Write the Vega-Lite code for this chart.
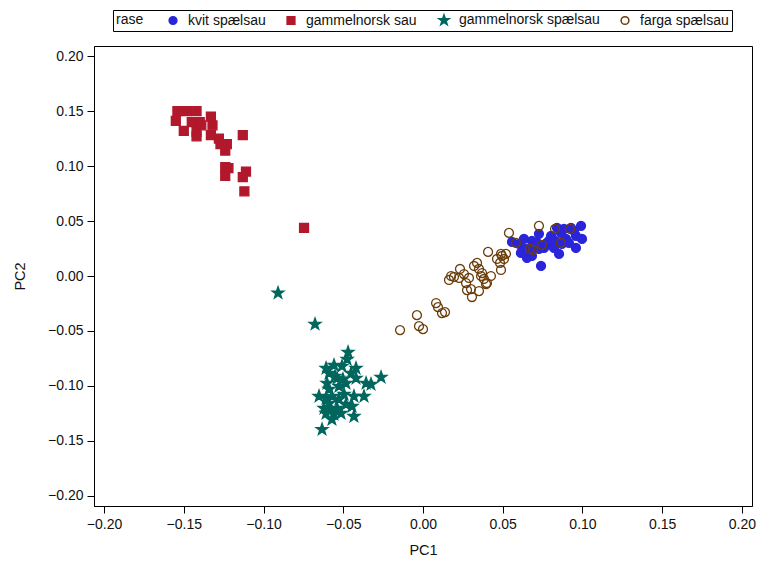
{
  "$schema": "https://vega.github.io/schema/vega-lite/v6.json",
  "width": 658,
  "height": 460,
  "autosize": {"type": "none"},
  "padding": {"left": 94, "top": 46, "right": 16, "bottom": 70},
  "background": "white",
  "config": {
    "view": {"stroke": "black", "strokeWidth": 1},
    "font": "Liberation Sans",
    "axis": {"grid": false, "domainColor": "black", "tickColor": "black", "labelColor": "#111", "titleColor": "#111", "labelFontSize": 14, "titleFontSize": 14.5, "titleFontWeight": "normal", "tickSize": 7, "labelPadding": 4}
  },
  "data": {"values": [
    {"rase":"kvit spælsau","PC1":0.0558,"PC2":0.0310},
    {"rase":"kvit spælsau","PC1":0.0602,"PC2":0.0292},
    {"rase":"kvit spælsau","PC1":0.0633,"PC2":0.0337},
    {"rase":"kvit spælsau","PC1":0.0646,"PC2":0.0246},
    {"rase":"kvit spælsau","PC1":0.0677,"PC2":0.0237},
    {"rase":"kvit spælsau","PC1":0.0683,"PC2":0.0182},
    {"rase":"kvit spælsau","PC1":0.0652,"PC2":0.0164},
    {"rase":"kvit spælsau","PC1":0.0614,"PC2":0.0210},
    {"rase":"kvit spælsau","PC1":0.0683,"PC2":0.0319},
    {"rase":"kvit spælsau","PC1":0.0727,"PC2":0.0383},
    {"rase":"kvit spælsau","PC1":0.0715,"PC2":0.0301},
    {"rase":"kvit spælsau","PC1":0.0740,"PC2":0.0091},
    {"rase":"kvit spælsau","PC1":0.0759,"PC2":0.0255},
    {"rase":"kvit spælsau","PC1":0.0777,"PC2":0.0301},
    {"rase":"kvit spælsau","PC1":0.0803,"PC2":0.0365},
    {"rase":"kvit spælsau","PC1":0.0821,"PC2":0.0255},
    {"rase":"kvit spælsau","PC1":0.0840,"PC2":0.0438},
    {"rase":"kvit spælsau","PC1":0.0865,"PC2":0.0392},
    {"rase":"kvit spælsau","PC1":0.0884,"PC2":0.0428},
    {"rase":"kvit spælsau","PC1":0.0897,"PC2":0.0337},
    {"rase":"kvit spælsau","PC1":0.0853,"PC2":0.0201},
    {"rase":"kvit spælsau","PC1":0.0928,"PC2":0.0438},
    {"rase":"kvit spælsau","PC1":0.0915,"PC2":0.0301},
    {"rase":"kvit spælsau","PC1":0.0959,"PC2":0.0365},
    {"rase":"kvit spælsau","PC1":0.0959,"PC2":0.0255},
    {"rase":"kvit spælsau","PC1":0.0991,"PC2":0.0456},
    {"rase":"kvit spælsau","PC1":0.0997,"PC2":0.0337},
    {"rase":"kvit spælsau","PC1":0.0947,"PC2":0.0410},
    {"rase":"kvit spælsau","PC1":0.0790,"PC2":0.0319},
    {"rase":"kvit spælsau","PC1":0.0828,"PC2":0.0319},
    {"rase":"kvit spælsau","PC1":0.0871,"PC2":0.0292},
    {"rase":"kvit spælsau","PC1":0.0727,"PC2":0.0246},
    {"rase":"gammelnorsk sau","PC1":-0.154,"PC2":0.150},
    {"rase":"gammelnorsk sau","PC1":-0.155,"PC2":0.141},
    {"rase":"gammelnorsk sau","PC1":-0.148,"PC2":0.150},
    {"rase":"gammelnorsk sau","PC1":-0.142,"PC2":0.150},
    {"rase":"gammelnorsk sau","PC1":-0.145,"PC2":0.140},
    {"rase":"gammelnorsk sau","PC1":-0.140,"PC2":0.140},
    {"rase":"gammelnorsk sau","PC1":-0.139,"PC2":0.137},
    {"rase":"gammelnorsk sau","PC1":-0.142,"PC2":0.131},
    {"rase":"gammelnorsk sau","PC1":-0.142,"PC2":0.127},
    {"rase":"gammelnorsk sau","PC1":-0.150,"PC2":0.132},
    {"rase":"gammelnorsk sau","PC1":-0.133,"PC2":0.145},
    {"rase":"gammelnorsk sau","PC1":-0.132,"PC2":0.137},
    {"rase":"gammelnorsk sau","PC1":-0.133,"PC2":0.128},
    {"rase":"gammelnorsk sau","PC1":-0.128,"PC2":0.125},
    {"rase":"gammelnorsk sau","PC1":-0.127,"PC2":0.120},
    {"rase":"gammelnorsk sau","PC1":-0.123,"PC2":0.120},
    {"rase":"gammelnorsk sau","PC1":-0.124,"PC2":0.114},
    {"rase":"gammelnorsk sau","PC1":-0.113,"PC2":0.128},
    {"rase":"gammelnorsk sau","PC1":-0.124,"PC2":0.099},
    {"rase":"gammelnorsk sau","PC1":-0.122,"PC2":0.098},
    {"rase":"gammelnorsk sau","PC1":-0.124,"PC2":0.091},
    {"rase":"gammelnorsk sau","PC1":-0.111,"PC2":0.095},
    {"rase":"gammelnorsk sau","PC1":-0.113,"PC2":0.090},
    {"rase":"gammelnorsk sau","PC1":-0.112,"PC2":0.077},
    {"rase":"gammelnorsk sau","PC1":-0.0746,"PC2":0.0438},
    {"rase":"gammelnorsk spælsau","PC1":-0.0909,"PC2":-0.0155},
    {"rase":"gammelnorsk spælsau","PC1":-0.0677,"PC2":-0.0438},
    {"rase":"gammelnorsk spælsau","PC1":-0.0470,"PC2":-0.0693},
    {"rase":"gammelnorsk spælsau","PC1":-0.0476,"PC2":-0.0757},
    {"rase":"gammelnorsk spælsau","PC1":-0.0608,"PC2":-0.0839},
    {"rase":"gammelnorsk spælsau","PC1":-0.0558,"PC2":-0.0811},
    {"rase":"gammelnorsk spælsau","PC1":-0.0508,"PC2":-0.0820},
    {"rase":"gammelnorsk spælsau","PC1":-0.0420,"PC2":-0.0839},
    {"rase":"gammelnorsk spælsau","PC1":-0.0451,"PC2":-0.0884},
    {"rase":"gammelnorsk spælsau","PC1":-0.0589,"PC2":-0.0884},
    {"rase":"gammelnorsk spælsau","PC1":-0.0602,"PC2":-0.0975},
    {"rase":"gammelnorsk spælsau","PC1":-0.0539,"PC2":-0.0930},
    {"rase":"gammelnorsk spælsau","PC1":-0.0483,"PC2":-0.0975},
    {"rase":"gammelnorsk spælsau","PC1":-0.0420,"PC2":-0.0930},
    {"rase":"gammelnorsk spælsau","PC1":-0.0357,"PC2":-0.0975},
    {"rase":"gammelnorsk spælsau","PC1":-0.0326,"PC2":-0.0985},
    {"rase":"gammelnorsk spælsau","PC1":-0.0263,"PC2":-0.0921},
    {"rase":"gammelnorsk spælsau","PC1":-0.0527,"PC2":-0.1003},
    {"rase":"gammelnorsk spælsau","PC1":-0.0589,"PC2":-0.1030},
    {"rase":"gammelnorsk spælsau","PC1":-0.0652,"PC2":-0.1094},
    {"rase":"gammelnorsk spælsau","PC1":-0.0608,"PC2":-0.1112},
    {"rase":"gammelnorsk spælsau","PC1":-0.0571,"PC2":-0.1094},
    {"rase":"gammelnorsk spælsau","PC1":-0.0495,"PC2":-0.1076},
    {"rase":"gammelnorsk spælsau","PC1":-0.0433,"PC2":-0.1094},
    {"rase":"gammelnorsk spælsau","PC1":-0.0370,"PC2":-0.1094},
    {"rase":"gammelnorsk spælsau","PC1":-0.0527,"PC2":-0.1121},
    {"rase":"gammelnorsk spælsau","PC1":-0.0621,"PC2":-0.1203},
    {"rase":"gammelnorsk spælsau","PC1":-0.0577,"PC2":-0.1212},
    {"rase":"gammelnorsk spælsau","PC1":-0.0539,"PC2":-0.1203},
    {"rase":"gammelnorsk spælsau","PC1":-0.0445,"PC2":-0.1185},
    {"rase":"gammelnorsk spælsau","PC1":-0.0483,"PC2":-0.1167},
    {"rase":"gammelnorsk spælsau","PC1":-0.0589,"PC2":-0.1158},
    {"rase":"gammelnorsk spælsau","PC1":-0.0608,"PC2":-0.1249},
    {"rase":"gammelnorsk spælsau","PC1":-0.0558,"PC2":-0.1258},
    {"rase":"gammelnorsk spælsau","PC1":-0.0514,"PC2":-0.1249},
    {"rase":"gammelnorsk spælsau","PC1":-0.0433,"PC2":-0.1276},
    {"rase":"gammelnorsk spælsau","PC1":-0.0571,"PC2":-0.1304},
    {"rase":"gammelnorsk spælsau","PC1":-0.0633,"PC2":-0.1395},
    {"rase":"gammelnorsk spælsau","PC1":-0.0552,"PC2":-0.0912},
    {"rase":"gammelnorsk spælsau","PC1":-0.0502,"PC2":-0.0939},
    {"rase":"farga spælsau","PC1":-0.0144,"PC2":-0.0492},
    {"rase":"farga spælsau","PC1":-0.0038,"PC2":-0.0356},
    {"rase":"farga spælsau","PC1":-0.0025,"PC2":-0.0456},
    {"rase":"farga spælsau","PC1":0.0000,"PC2":-0.0483},
    {"rase":"farga spælsau","PC1":0.0082,"PC2":-0.0246},
    {"rase":"farga spælsau","PC1":0.0094,"PC2":-0.0283},
    {"rase":"farga spælsau","PC1":0.0119,"PC2":-0.0337},
    {"rase":"farga spælsau","PC1":0.0138,"PC2":-0.0328},
    {"rase":"farga spælsau","PC1":0.0163,"PC2":-0.0036},
    {"rase":"farga spælsau","PC1":0.0176,"PC2":0.0000},
    {"rase":"farga spælsau","PC1":0.0194,"PC2":-0.0009},
    {"rase":"farga spælsau","PC1":0.0232,"PC2":0.0064},
    {"rase":"farga spælsau","PC1":0.0226,"PC2":-0.0018},
    {"rase":"farga spælsau","PC1":0.0257,"PC2":0.0018},
    {"rase":"farga spælsau","PC1":0.0270,"PC2":-0.0064},
    {"rase":"farga spælsau","PC1":0.0276,"PC2":-0.0128},
    {"rase":"farga spælsau","PC1":0.0301,"PC2":-0.0119},
    {"rase":"farga spælsau","PC1":0.0307,"PC2":-0.0191},
    {"rase":"farga spælsau","PC1":0.0351,"PC2":-0.0137},
    {"rase":"farga spælsau","PC1":0.0339,"PC2":0.0119},
    {"rase":"farga spælsau","PC1":0.0351,"PC2":0.0064},
    {"rase":"farga spælsau","PC1":0.0364,"PC2":0.0000},
    {"rase":"farga spælsau","PC1":0.0370,"PC2":0.0027},
    {"rase":"farga spælsau","PC1":0.0382,"PC2":-0.0027},
    {"rase":"farga spælsau","PC1":0.0395,"PC2":-0.0073},
    {"rase":"farga spælsau","PC1":0.0401,"PC2":-0.0064},
    {"rase":"farga spælsau","PC1":0.0426,"PC2":0.0000},
    {"rase":"farga spælsau","PC1":0.0408,"PC2":0.0219},
    {"rase":"farga spælsau","PC1":0.0464,"PC2":0.0155},
    {"rase":"farga spælsau","PC1":0.0489,"PC2":0.0201},
    {"rase":"farga spælsau","PC1":0.0495,"PC2":0.0182},
    {"rase":"farga spælsau","PC1":0.0483,"PC2":0.0119},
    {"rase":"farga spælsau","PC1":0.0489,"PC2":0.0055},
    {"rase":"farga spælsau","PC1":0.0520,"PC2":0.0201},
    {"rase":"farga spælsau","PC1":0.0539,"PC2":0.0392},
    {"rase":"farga spælsau","PC1":0.0583,"PC2":0.0301},
    {"rase":"farga spælsau","PC1":0.0671,"PC2":0.0246},
    {"rase":"farga spælsau","PC1":0.0690,"PC2":0.0237},
    {"rase":"farga spælsau","PC1":0.0746,"PC2":0.0283},
    {"rase":"farga spælsau","PC1":0.0727,"PC2":0.0456},
    {"rase":"farga spælsau","PC1":0.0828,"PC2":0.0428},
    {"rase":"farga spælsau","PC1":0.0865,"PC2":0.0301},
    {"rase":"farga spælsau","PC1":0.0922,"PC2":0.0428},
    {"rase":"farga spælsau","PC1":0.0320,"PC2":0.0091},
    {"rase":"farga spælsau","PC1":0.0288,"PC2":-0.0018},
    {"rase":"farga spælsau","PC1":0.0508,"PC2":0.0155}
  ]},
  "mark": {"type": "point", "strokeWidth": 1.3, "opacity": 1, "size": 80},
  "encoding": {
    "x": {"field": "PC1", "type": "quantitative", "title": "PC1",
      "scale": {"domain": [-0.2063, 0.2063], "nice": false, "zero": false},
      "axis": {"values": [-0.2,-0.15,-0.1,-0.05,0,0.05,0.1,0.15,0.2], "format": ".2f", "titlePadding": 12}},
    "y": {"field": "PC2", "type": "quantitative", "title": "PC2",
      "scale": {"domain": [-0.2091, 0.2091], "nice": false, "zero": false},
      "axis": {"values": [-0.2,-0.15,-0.1,-0.05,0,0.05,0.1,0.15,0.2], "format": ".2f", "titlePadding": 20}},
    "shape": {"field": "rase", "type": "nominal", "title": "rase",
      "scale": {"domain": ["kvit spælsau","gammelnorsk sau","gammelnorsk spælsau","farga spælsau"], "range": ["circle","square","M0,-1.4L0.329,-0.454L1.331,-0.433L0.532,0.174L0.823,1.133L0,0.56L-0.823,1.133L-0.532,0.174L-1.331,-0.433L-0.329,-0.454Z","circle"]},
      "legend": {"orient": "none", "legendX": 19, "legendY": -36, "direction": "horizontal", "columns": 4, "titleOrient": "left", "strokeColor": "black", "padding": 3, "labelFontSize": 14, "titleFontSize": 14, "titleFontWeight": "normal", "columnPadding": 18, "symbolSize": 60, "labelColor": "#111", "titleColor": "#111", "titlePadding": 22, "labelOffset": 8}},
    "stroke": {"field": "rase", "type": "nominal", "title": "rase",
      "scale": {"domain": ["kvit spælsau","gammelnorsk sau","gammelnorsk spælsau","farga spælsau"], "range": ["#2a25d9","#b2182b","#01665e","#6b3d0a"]}},
    "fill": {"field": "rase", "type": "nominal", "title": "rase",
      "scale": {"domain": ["kvit spælsau","gammelnorsk sau","gammelnorsk spælsau","farga spælsau"], "range": ["#2a25d9","#b2182b","#01665e","transparent"]}}
  }
}
